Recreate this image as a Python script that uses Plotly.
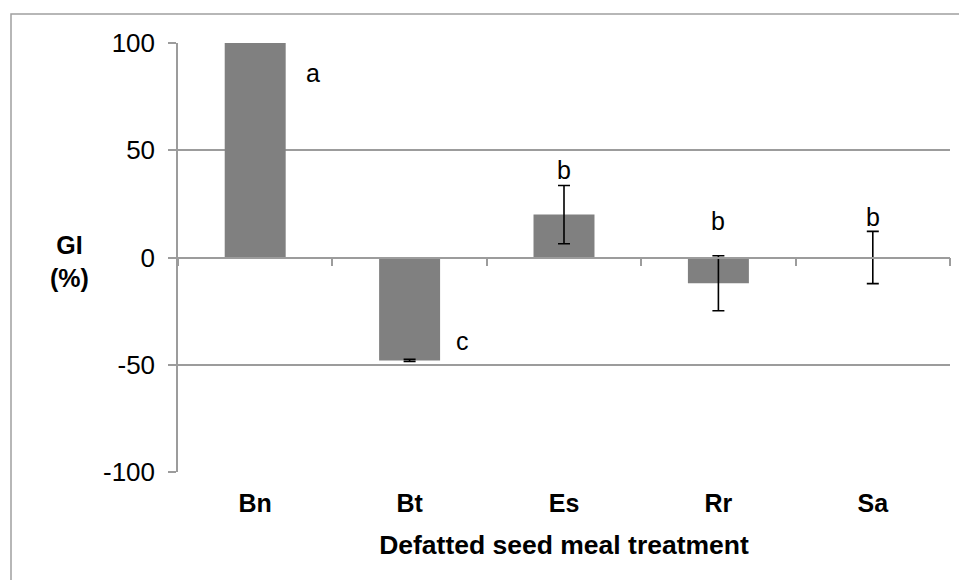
import plotly.graph_objects as go

categories = ["Bn", "Bt", "Es", "Rr", "Sa"]
gi_values = [100, -48, 20, -12, 0]
gi_errors = [None, 0.5, 13.6, 12.8, 12.2]
letters = ["a", "c", "b", "b", "b"]
letter_y = [86, -39, 41, 17, 19]
letter_shift = [58, 53, 0, 0, 0]
y_ticks = [-100, -50, 0, 50, 100]
y_tick_text = ["-100", "-50", "0", "50", "100"]

FONT = "Liberation Sans, Arial, sans-serif"
GRID = "#9c9c9c"

# the page body has an 8px margin, so the figure is sized to fit the window
W, H = 959, 572
L, R, T, B = 170, 17, 35, 108
PW, PH = W - L - R, H - T - B

fig = go.Figure()
fig.add_trace(go.Bar(
    x=categories, y=gi_values, width=0.395,
    marker=dict(color="#808080", line=dict(width=0)),
    xaxis="x", yaxis="y", showlegend=False,
))
# error bars only where a standard error exists
eb = [(c, v, e) for c, v, e in zip(categories, gi_values, gi_errors) if e is not None]
fig.add_trace(go.Scatter(
    x=[t[0] for t in eb], y=[t[1] for t in eb], mode="markers",
    marker=dict(size=0.1, color="rgba(0,0,0,0)"),
    error_y=dict(type="data", array=[t[2] for t in eb], visible=True,
                 color="black", thickness=1.6, width=6),
    xaxis="x", yaxis="y", showlegend=False, hoverinfo="skip",
))
fig.add_trace(go.Scatter(x=categories, y=[None]*5, xaxis="x2", yaxis="y",
                         showlegend=False, hoverinfo="skip"))

for c, t, yy, s in zip(categories, letters, letter_y, letter_shift):
    fig.add_annotation(x=c, y=yy, text=t, showarrow=False, xshift=s,
                       font=dict(family=FONT, size=25, color="black"))

fig.add_annotation(xref="paper", yref="paper", x=(61 - L) / PW, y=1 - (253 - T) / PH,
                   xanchor="center", yanchor="middle",
                   text="<b>GI</b><br><b>(%)</b>", showarrow=False,
                   font=dict(family=FONT, size=25, color="black"), align="center")

fig.add_shape(type="rect", xref="paper", yref="paper",
              x0=(3 - L) / PW, x1=1.2, y0=-0.5, y1=1 + (T - 6) / PH,
              line=dict(color="#a0a0a0", width=1.5), layer="below")

fig.update_layout(
    width=W, height=H,
    margin=dict(l=L, r=R, t=T, b=B, autoexpand=False),
    paper_bgcolor="white", plot_bgcolor="white",
    font=dict(family=FONT, size=25, color="black"),
    xaxis=dict(type="category", categoryorder="array", categoryarray=categories,
               range=[-0.5, 4.5], showgrid=False, showline=False, ticks="",
               tickfont=dict(family=FONT, size=25, color="black"),
               tickprefix="<b>", ticksuffix="</b>", ticklabelstandoff=14,
               title=dict(text="<b>Defatted seed meal treatment</b>",
                          font=dict(family=FONT, size=26.5, color="black"),
                          standoff=19),
               zeroline=False),
    xaxis2=dict(type="category", categoryorder="array", categoryarray=categories,
                range=[-0.5, 4.5], overlaying="x", anchor="free", position=0.5,
                side="bottom", showline=True, linecolor=GRID, linewidth=1.5,
                ticks="outside", tickson="boundaries", ticklen=8, tickwidth=1.5,
                tickcolor=GRID, showticklabels=False, showgrid=False, zeroline=False),
    yaxis=dict(range=[-100, 100], tickvals=y_ticks, ticktext=y_tick_text,
               showgrid=True, gridcolor=GRID,
               gridwidth=1.5, showline=True, linecolor=GRID, linewidth=1.5,
               ticks="outside", ticklen=8, tickwidth=1.5, tickcolor=GRID,
               zeroline=False, tickfont=dict(family=FONT, size=26, color="black"),
               ticklabelstandoff=8),
)

fig.write_html("out.html")
